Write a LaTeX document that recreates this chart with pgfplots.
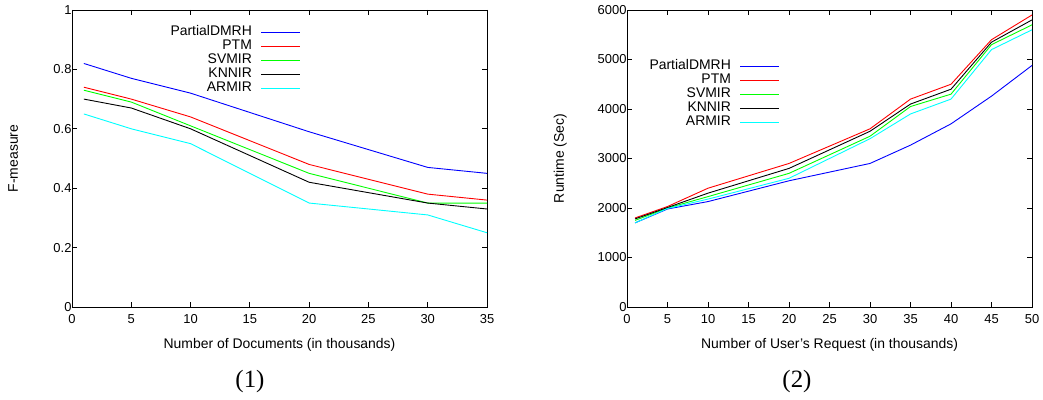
\documentclass[border=0pt]{standalone}
\usepackage{fontspec}
\setmainfont{Liberation Sans}
\newfontfamily\capfont{Liberation Serif}
\usepackage{pgfplots}
\pgfplotsset{compat=1.18}

\definecolor{gpblue}{RGB}{0,0,255}
\definecolor{gpred}{RGB}{255,0,0}
\definecolor{gpgreen}{RGB}{0,255,0}
\definecolor{gpblack}{RGB}{0,0,0}
\definecolor{gpcyan}{RGB}{0,255,255}

\pgfplotsset{
  gp/.style={
    scale only axis,
    height=297bp,
    axis line style={line width=0.9bp},
    tick style={line width=0.8bp, black},
    major tick length=5bp,
    tick align=inside,
    xtick pos=both, ytick pos=both,
    /pgf/number format/assume math mode=true,
    tick label style={font=\fontsize{13}{13}\selectfont},
    xticklabel style={yshift=-4bp},
    yticklabel style={xshift=3bp},
    label style={font=\fontsize{14}{14}\selectfont},
    legend cell align=right,
    legend plot pos=right,
    legend style={draw=none, fill=none, inner sep=0pt, column sep=9bp,
      font=\fontsize{14}{14}\selectfont,
      nodes={inner sep=0pt, text height=10bp, text depth=4bp}},
    legend image code/.code={\draw[#1, line width=1bp] (0bp,0bp) -- (39bp,0bp);},
  },
  lb/.style={line width=0.9bp, color=gpblue},
  lr/.style={line width=0.9bp, color=gpred},
  lg/.style={line width=0.9bp, color=gpgreen},
  lk/.style={line width=0.9bp, color=gpblack},
  lc/.style={line width=0.9bp, color=gpcyan},
}

\begin{document}
\begin{tikzpicture}
\useasboundingbox (-72bp,-93bp) rectangle (971bp,307bp);

% (1) F-measure
\begin{axis}[gp,
    width=415bp,
    xmin=0, xmax=35, ymin=0, ymax=1,
    xtick={0,5,...,35},
    ytick={0,0.2,0.4,0.6,0.8,1},
    yticklabel style={/pgf/number format/fixed},
    xlabel={Number of Documents (in thousands)},
    ylabel={F-measure},
    x label style={at={(axis description cs:0.5,-0.128)}, anchor=center},
    y label style={at={(axis description cs:-0.142,0.5)}, anchor=center, rotate=0},
    legend style={at={(axis description cs:0.552,0.947811)}, anchor=north east},
  ]
  \addplot[lb] coordinates {(1,0.82) (5,0.77) (10,0.72) (20,0.59) (30,0.47) (35,0.45)};
  \addlegendentry{PartialDMRH}
  \addplot[lr] coordinates {(1,0.74) (5,0.70) (10,0.64) (20,0.48) (30,0.38) (35,0.36)};
  \addlegendentry{PTM}
  \addplot[lg] coordinates {(1,0.73) (5,0.69) (10,0.61) (20,0.45) (30,0.35) (35,0.35)};
  \addlegendentry{SVMIR}
  \addplot[lk] coordinates {(1,0.70) (5,0.67) (10,0.60) (20,0.42) (30,0.35) (35,0.33)};
  \addlegendentry{KNNIR}
  \addplot[lc] coordinates {(1,0.65) (5,0.60) (10,0.55) (20,0.35) (30,0.31) (35,0.25)};
  \addlegendentry{ARMIR}
\end{axis}

% (2) Runtime
\begin{axis}[gp,
    at={(555bp,0bp)},
    width=405bp,
    xmin=0, xmax=50, ymin=0, ymax=6000,
    xtick={0,5,...,50},
    ytick={0,1000,...,6000},
    yticklabel style={/pgf/number format/1000 sep={}},
    scaled y ticks=false,
    xlabel={Number of User's Request (in thousands)},
    ylabel={Runtime (Sec)},
    x label style={at={(axis description cs:0.5,-0.128)}, anchor=center},
    y label style={at={(axis description cs:-0.165,0.5)}, anchor=center, rotate=0},
    legend style={at={(axis description cs:0.378,0.833333)}, anchor=north east},
  ]
  \addplot[lb] coordinates {(1,1700) (5,1980) (10,2130) (20,2550) (30,2900) (35,3270) (40,3700) (45,4260) (50,4880)};
  \addlegendentry{PartialDMRH}
  \addplot[lr] coordinates {(1,1800) (5,2030) (10,2400) (20,2900) (30,3600) (35,4200) (40,4500) (45,5400) (50,5900)};
  \addlegendentry{PTM}
  \addplot[lg] coordinates {(1,1750) (5,2000) (10,2230) (20,2700) (30,3450) (35,4050) (40,4300) (45,5300) (50,5700)};
  \addlegendentry{SVMIR}
  \addplot[lk] coordinates {(1,1780) (5,2010) (10,2300) (20,2800) (30,3550) (35,4100) (40,4400) (45,5350) (50,5800)};
  \addlegendentry{KNNIR}
  \addplot[lc] coordinates {(1,1700) (5,1990) (10,2180) (20,2600) (30,3400) (35,3900) (40,4200) (45,5200) (50,5600)};
  \addlegendentry{ARMIR}
\end{axis}

\node[font=\capfont\fontsize{25}{25}\selectfont] at (178bp,-75bp) {(1)};
\node[font=\capfont\fontsize{25}{25}\selectfont] at (725bp,-75bp) {(2)};
\end{tikzpicture}
\end{document}
